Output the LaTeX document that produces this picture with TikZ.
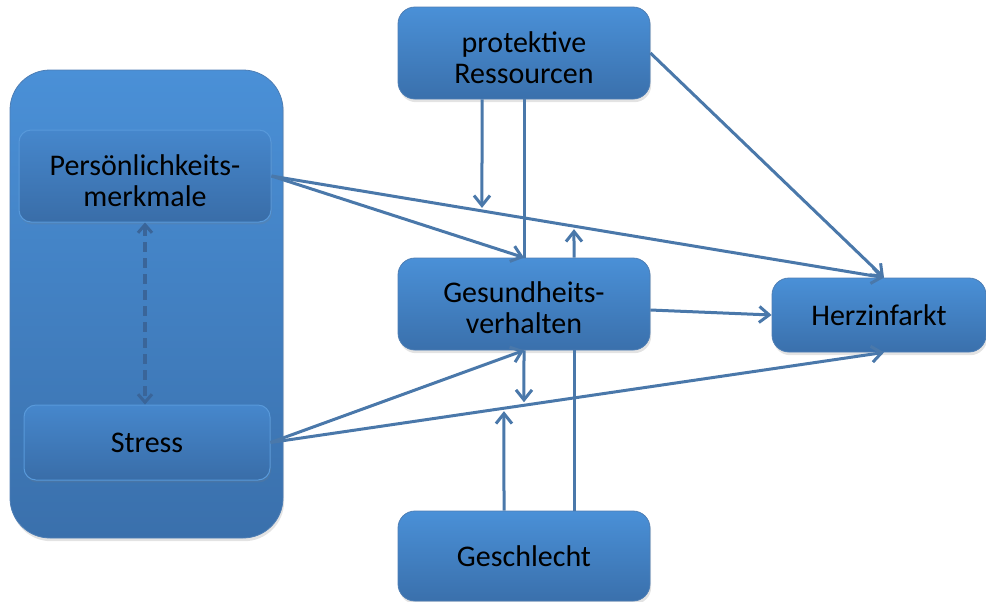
\documentclass[tikz,border=0pt]{standalone}
\usepackage{fontspec}
\setmainfont{Carlito}
\usetikzlibrary{arrows.meta,shadows,calc}

\definecolor{boxtop}{HTML}{4A90D7}
\definecolor{boxbot}{HTML}{3A70AC}
\definecolor{inntop}{HTML}{4687CC}
\definecolor{innbot}{HTML}{396DA8}
\definecolor{link}{HTML}{4A78AA}
\definecolor{dashcol}{HTML}{3A6599}

\tikzset{
  box/.style={rounded corners=8.5pt, top color=boxtop, bottom color=boxbot,
    draw=boxbot!90!white, line width=0.4pt, align=center, inner sep=0pt,
    font=\fontsize{15}{15.5}\selectfont,
    drop shadow={opacity=0.22, shadow xshift=0.6pt, shadow yshift=-1.6pt}},
  group/.style={rounded corners=20pt, top color=boxtop, bottom color=boxbot,
    draw=boxbot!90!white, line width=0.4pt, inner sep=0pt,
    drop shadow={opacity=0.22, shadow xshift=0.6pt, shadow yshift=-1.6pt}},
  inner/.style={rounded corners=6pt, top color=inntop, bottom color=innbot,
    draw=boxtop!92!white, line width=0.5pt, align=center, inner sep=0pt,
    font=\fontsize{15}{15.5}\selectfont,
    drop shadow={opacity=0.18, shadow xshift=0.5pt, shadow yshift=-1.2pt}},
  twoline/.style={align=center, inner sep=0pt, font=\fontsize{15}{15.5}\selectfont},
  conn/.style={draw=link, line width=1.5pt,
    -{Straight Barb[length=5pt,width=8pt,line width=1.5pt]}},
  plain/.style={draw=link, line width=1.5pt},
  twoway/.style={draw=dashcol, line width=1.6pt, dash pattern=on 5pt off 3pt,
    {Straight Barb[length=4pt,width=7pt,line width=1.5pt]}-{Straight Barb[length=4pt,width=7pt,line width=1.5pt]}}
}

\begin{document}
\begin{tikzpicture}[x=0.5pt, y=-0.5pt]
  \useasboundingbox (0,0) rectangle (986,601);

  % left group holding personality traits and stress
  \node[group, minimum width=136.5pt, minimum height=234pt] (grp) at (146.5,304) {};
  \node[inner, minimum width=126pt, minimum height=46pt] (pers) at (145,176) {};
  \node[twoline] (persT) at ($(pers.center)+(0,5)$) {Persönlichkeits-\\merkmale};
  \node[inner, minimum width=123pt, minimum height=37.5pt] (stress) at (147,442.5)
    {Stress};

  % main factors
  \node[box, minimum width=126pt, minimum height=46pt] (prot) at (524,53) {};
  \node[twoline] (protT) at ($(prot.center)+(0,5)$) {protektive\\Ressourcen};
  \node[box, minimum width=126pt, minimum height=46pt] (gesund) at (524,304) {};
  \node[twoline] (gesundT) at ($(gesund.center)+(0,4)$) {Gesundheits-\\verhalten};
  \node[box, minimum width=126pt, minimum height=45pt] (geschl) at (524,556)
    {Geschlecht};
  \node[box, minimum width=107pt, minimum height=37pt] (herz) at (879,315)
    {Herzinfarkt};

  % reciprocal link within the group
  \draw[twoway] (pers.south) -- (pers.south |- stress.north);

  % direct paths
  \coordinate (hzTop) at ($(herz.north)+(5,0)$);
  \coordinate (hzBot) at ($(herz.south)+(5,0)$);
  \draw[conn] (pers.east) -- (hzTop);
  \draw[conn] (pers.east) -- (gesund.north);
  \draw[conn] (prot.east) -- (hzTop);
  \draw[conn] ($(gesund.east)+(0,6)$) -- (herz.west);
  \draw[conn] (stress.east) -- (gesund.south);
  \draw[conn] (stress.east) -- (hzBot);

  % moderating influences on paths
  \coordinate (protA) at ($(prot.south)+(-42,0)$);
  \coordinate (m1) at (intersection of pers.east--hzTop and protA--{$(protA)+(0,200)$});
  \draw[conn] (protA) -- ($(m1)+(0,-3)$);
  \draw[plain] (prot.south) -- (gesund.north);

  \coordinate (gesA) at ($(gesund.north)+(50,0)$);
  \coordinate (m2) at (intersection of pers.east--hzTop and gesA--{$(gesA)+(0,-200)$});
  \draw[conn] (gesA) -- ($(m2)+(0,3)$);

  \coordinate (m3) at (intersection of stress.east--hzBot and gesund.south--{$(gesund.south)+(0,200)$});
  \draw[conn] (gesund.south) -- ($(m3)+(0,-3)$);

  \coordinate (gesB) at ($(geschl.north)+(-20,0)$);
  \coordinate (m4) at (intersection of stress.east--hzBot and gesB--{$(gesB)+(0,-200)$});
  \draw[conn] (gesB) -- ($(m4)+(0,3)$);
  \draw[plain] ($(geschl.north)+(50,0)$) -- ($(gesund.south)+(50,0)$);
\end{tikzpicture}
\end{document}
